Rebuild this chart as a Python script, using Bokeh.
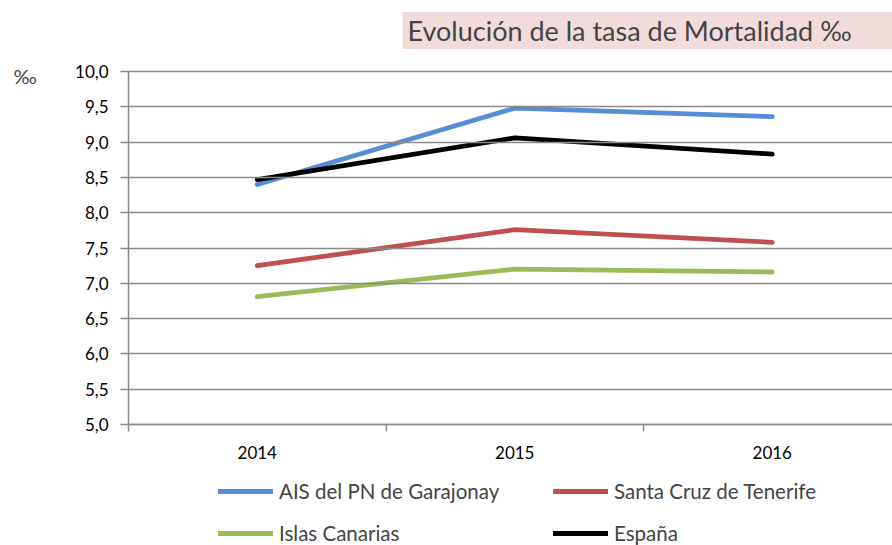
from bokeh.plotting import figure
from bokeh.models import FixedTicker, Legend, LegendItem, Label, LinearAxis
from bokeh.embed import file_html
from bokeh.resources import INLINE

years = [2014, 2015, 2016]
garajonay = [8.40, 9.48, 9.36]
tenerife = [7.25, 7.76, 7.58]
canarias = [6.81, 7.20, 7.16]
espana = [8.47, 9.06, 8.83]
series_names = ["AIS del PN de Garajonay", "Santa Cruz de Tenerife", "Islas Canarias", "España"]
y_ticks = [5.0, 5.5, 6.0, 6.5, 7.0, 7.5, 8.0, 8.5, 9.0, 9.5, 10.0]
y_tick_labels = ["5,0", "5,5", "6,0", "6,5", "7,0", "7,5", "8,0", "8,5", "9,0", "9,5", "10,0"]
category_edges = [2013.5, 2014.5, 2015.5, 2016.5]
title_text = "Evolución de la tasa de Mortalidad ‰"
unit_text = "‰"

FONT = "Lato"
GRID = "#8a8a8a"
W, H = 892, 545

# frame covers the whole canvas; axes are drawn at fixed data locations
x0, y0 = 2013.5, 5.0
px_per_year, px_per_unit = 257.5, 70.6
ax_left_px, ax_bottom_px = 128, 424
x_range = (x0 - ax_left_px / px_per_year, x0 + (W - ax_left_px) / px_per_year)
y_range = (y0 - (H - ax_bottom_px) / px_per_unit, y0 + ax_bottom_px / px_per_unit)

p = figure(width=W, height=H, output_backend="svg", toolbar_location=None,
           x_range=x_range, y_range=y_range, min_border=0,
           x_axis_location=None, y_axis_location=None, outline_line_color=None)
p.xgrid.visible = False
p.ygrid.visible = False

yaxis = LinearAxis(fixed_location=x0, bounds=(5.0, 10.0),
                   ticker=FixedTicker(ticks=y_ticks))
yaxis.major_label_overrides = {t: l for t, l in zip(y_ticks, y_tick_labels)}
yaxis.axis_line_color = GRID
yaxis.axis_line_width = 1.5
yaxis.major_tick_line_color = GRID
yaxis.major_tick_line_width = 1.5
yaxis.major_tick_out = 8
yaxis.major_tick_in = W - ax_left_px   # horizontal gridlines across the plot
yaxis.minor_tick_line_color = None
yaxis.major_label_text_font = FONT
yaxis.major_label_text_font_size = "17px"
yaxis.major_label_text_color = "#000000"
yaxis.major_label_standoff = 12
p.add_layout(yaxis, "left")

xaxis = LinearAxis(fixed_location=y0, bounds=(category_edges[0], category_edges[-1]),
                   ticker=FixedTicker(ticks=years, minor_ticks=category_edges))
xaxis.major_label_overrides = {y: str(y) for y in years}
xaxis.axis_line_color = GRID
xaxis.axis_line_width = 1.5
xaxis.major_tick_line_color = None
xaxis.major_tick_out = 0
xaxis.major_tick_in = 0
xaxis.minor_tick_line_color = GRID
xaxis.minor_tick_line_width = 1.5
xaxis.minor_tick_out = 7
xaxis.minor_tick_in = 0
xaxis.major_label_text_font = FONT
xaxis.major_label_text_font_size = "17px"
xaxis.major_label_text_color = "#000000"
xaxis.major_label_standoff = 14
p.add_layout(xaxis, "below")

colors = ["#558ed5", "#c0504d", "#9bbb59", "#000000"]
data = [garajonay, tenerife, canarias, espana]
renderers = []
for vals, c in zip(data, colors):
    r = p.line(years, vals, line_color=c, line_width=4.8, line_cap="round", line_join="round")
    renderers.append(r)

items = [LegendItem(label=n, renderers=[r]) for n, r in zip(series_names, renderers)]
# legend grid is filled column by column: reorder so rows read left to right
legend_items = [items[0], items[2], items[1], items[3]]
legend = Legend(items=legend_items, ncols=2, location=(218, 0),
                label_text_font=FONT, label_text_font_size="20.5px",
                glyph_width=55, glyph_height=20, label_height=20,
                label_width=256, label_standoff=6, spacing=18,
                padding=0, margin=0, border_line_alpha=0, background_fill_alpha=0)
p.add_layout(legend)

title = Label(x=x0 + (402 - ax_left_px) / px_per_year, y=10.58, text=title_text,
              text_font=FONT, text_font_size="27px",
              text_baseline="middle", text_align="left",
              background_fill_color="#f2dcdb",
              padding=dict(left=5, right=80, top=2, bottom=2))
p.add_layout(title)

unit = Label(x=x0 + (13 - ax_left_px) / px_per_year, y=9.943, text=unit_text,
             text_font=FONT, text_font_size="20px",
             text_baseline="middle", text_align="left")
p.add_layout(unit)

open("out.html", "w").write(file_html(p, INLINE))
